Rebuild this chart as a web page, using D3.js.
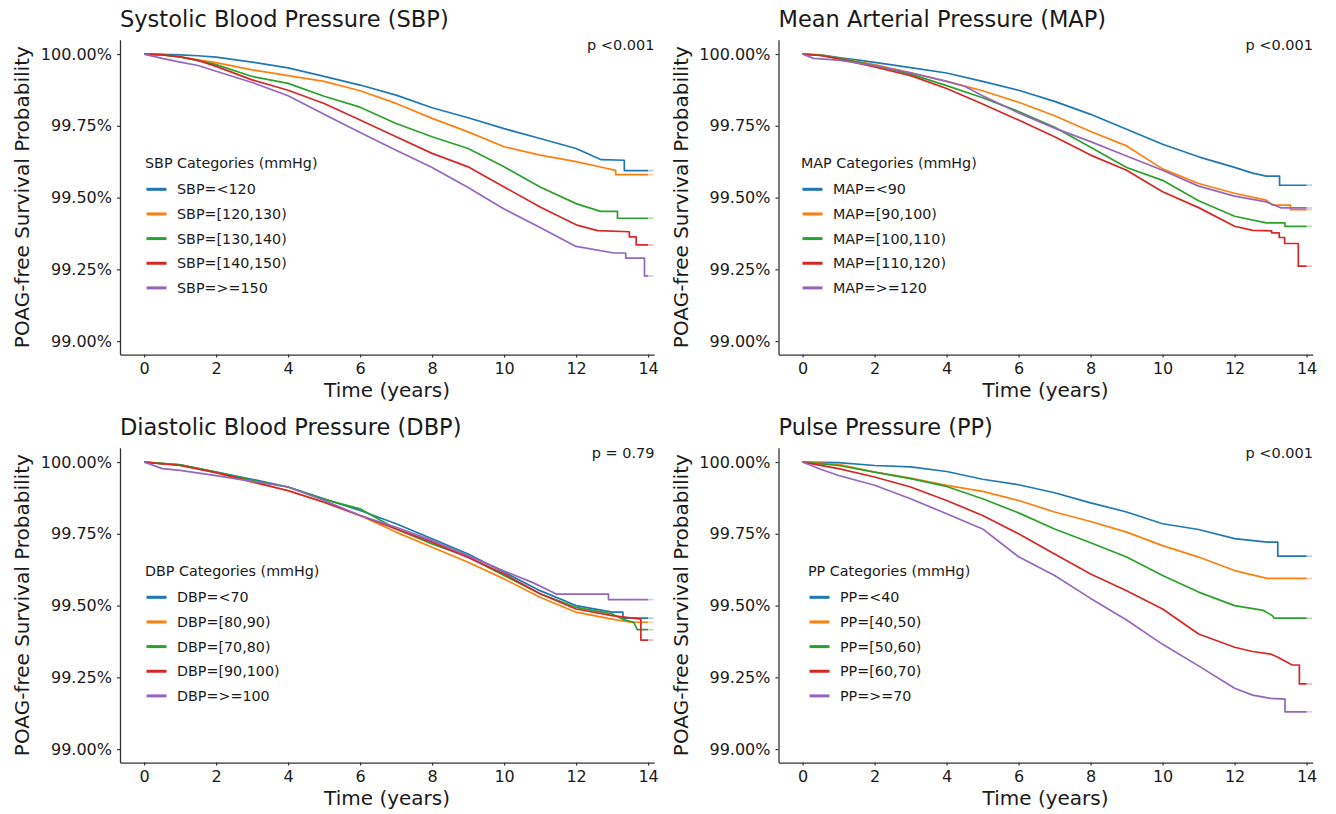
<!DOCTYPE html>
<html>
<head>
<meta charset="utf-8">
<script src="https://cdn.jsdelivr.net/npm/d3@7"></script>
<style>
  html, body { margin: 0; padding: 0; background: #fff; }
  svg { display: block; font-family: "DejaVu Sans", sans-serif; }
</style>
</head>
<body>
<svg id="chart" width="1336" height="814"></svg>
<script>
// ---------------- DATA ----------------
const panelTitles = [
  "Systolic Blood Pressure (SBP)",
  "Mean Arterial Pressure (MAP)",
  "Diastolic Blood Pressure (DBP)",
  "Pulse Pressure (PP)"
];
const legendTitles = [
  "SBP Categories (mmHg)",
  "MAP Categories (mmHg)",
  "DBP Categories (mmHg)",
  "PP Categories (mmHg)"
];
const pValues = ["p <0.001", "p <0.001", "p = 0.79", "p <0.001"];

const sbpCategories = ["SBP=<120", "SBP=[120,130)", "SBP=[130,140)", "SBP=[140,150)", "SBP=>=150"];
const mapCategories = ["MAP=<90", "MAP=[90,100)", "MAP=[100,110)", "MAP=[110,120)", "MAP=>=120"];
const dbpCategories = ["DBP=<70", "DBP=[80,90)", "DBP=[70,80)", "DBP=[90,100)", "DBP=>=100"];
const ppCategories  = ["PP=<40", "PP=[40,50)", "PP=[50,60)", "PP=[60,70)", "PP=>=70"];

const xTicks = [0, 2, 4, 6, 8, 10, 12, 14];
const yTicks = [99.00, 99.25, 99.50, 99.75, 100.00];

// survival (%) read at [time (years), value]
const sbpCurves = [
  [[0,100],[0.5,99.999],[1,99.997],[1.5,99.994],[2,99.989],[3,99.972],[4,99.952],[5,99.922],[6,99.892],[7,99.857],[8,99.813],[9,99.778],[10,99.740],[11,99.706],[12,99.671],[12.7,99.632],[13.34,99.630],[13.34,99.594],[14.15,99.594]],
  [[0,100],[0.5,99.997],[1,99.990],[1.5,99.980],[2,99.970],[3,99.945],[4,99.925],[5,99.905],[6,99.872],[7,99.828],[8,99.776],[9,99.729],[10,99.677],[11,99.648],[12,99.625],[12.77,99.604],[13.1,99.595],[13.1,99.580],[14.15,99.580]],
  [[0,100],[0.5,99.998],[1,99.990],[1.5,99.977],[2,99.963],[3,99.922],[4,99.898],[5,99.853],[6,99.815],[7,99.758],[8,99.712],[9,99.671],[10,99.607],[11,99.537],[12,99.479],[12.68,99.452],[13.15,99.452],[13.15,99.428],[14.15,99.428]],
  [[0,100],[0.5,99.997],[1,99.990],[1.5,99.978],[2,99.957],[3,99.910],[4,99.874],[5,99.828],[6,99.770],[7,99.712],[8,99.654],[9,99.607],[10,99.537],[11,99.467],[12,99.405],[12.6,99.385],[13.48,99.381],[13.48,99.363],[13.67,99.363],[13.67,99.335],[14.15,99.335]],
  [[0,100],[0.5,99.985],[1,99.972],[1.5,99.960],[2,99.940],[3,99.901],[4,99.855],[5,99.790],[6,99.727],[7,99.665],[8,99.605],[9,99.535],[10,99.460],[11,99.396],[12,99.330],[13.05,99.307],[13.38,99.307],[13.38,99.289],[13.9,99.289],[13.9,99.227],[14.15,99.227]]
];
const mapCurves = [
  [[0,100],[0.5,99.997],[1,99.988],[1.5,99.980],[2,99.971],[3,99.953],[4,99.934],[5,99.905],[6,99.874],[7,99.835],[8,99.790],[9,99.738],[10,99.686],[11,99.642],[12,99.605],[12.5,99.585],[12.88,99.575],[13.25,99.575],[13.25,99.543],[14.15,99.543]],
  [[0,100],[0.5,99.996],[1,99.986],[2,99.963],[3,99.935],[4,99.905],[5,99.872],[6,99.832],[7,99.785],[8,99.730],[9,99.680],[10,99.600],[11,99.549],[12,99.515],[12.88,99.491],[13.05,99.474],[13.55,99.474],[13.55,99.458],[14.15,99.458]],
  [[0,100],[0.5,99.995],[1,99.986],[2,99.960],[3,99.930],[4,99.890],[5,99.848],[6,99.800],[7,99.745],[8,99.675],[9,99.605],[10,99.560],[11,99.489],[12,99.435],[12.88,99.412],[13.4,99.412],[13.4,99.400],[14.15,99.400]],
  [[0,100],[0.5,99.995],[1,99.983],[2,99.955],[3,99.925],[4,99.880],[5,99.826],[6,99.770],[7,99.712],[8,99.648],[9,99.595],[10,99.520],[11,99.465],[12,99.400],[12.5,99.386],[13.03,99.384],[13.03,99.377],[13.24,99.377],[13.24,99.361],[13.39,99.361],[13.39,99.340],[13.77,99.340],[13.77,99.261],[14.15,99.261]],
  [[0,100],[0.3,99.985],[1,99.979],[2,99.960],[3,99.935],[4,99.905],[4.5,99.888],[5,99.855],[6,99.795],[7,99.742],[8,99.695],[9,99.645],[10,99.595],[11,99.540],[12,99.505],[12.88,99.485],[13.3,99.464],[14.15,99.464]]
];
const dbpCurves = [
  [[0,100],[1,99.990],[2,99.965],[3,99.940],[4,99.913],[5,99.872],[6,99.831],[7,99.785],[8,99.733],[9,99.680],[10,99.616],[11,99.552],[12,99.500],[13,99.477],[13.3,99.477],[13.3,99.456],[14.15,99.456]],
  [[0,100],[1,99.990],[2,99.963],[3,99.930],[4,99.901],[5,99.860],[6,99.814],[7,99.756],[8,99.703],[9,99.651],[10,99.593],[11,99.529],[12,99.477],[13,99.453],[13.5,99.442],[14.15,99.442]],
  [[0,100],[1,99.990],[2,99.965],[3,99.937],[4,99.913],[5,99.870],[6,99.837],[7,99.767],[8,99.715],[9,99.669],[10,99.605],[11,99.541],[12,99.494],[13,99.471],[13.3,99.452],[13.6,99.442],[13.7,99.416],[14.15,99.416]],
  [[0,100],[1,99.988],[2,99.963],[3,99.932],[4,99.900],[5,99.860],[6,99.814],[7,99.767],[8,99.721],[9,99.668],[10,99.610],[11,99.541],[12,99.488],[13,99.465],[13.8,99.453],[13.8,99.380],[14.15,99.380]],
  [[0,100],[0.5,99.977],[1,99.971],[2,99.953],[3,99.933],[4,99.913],[5,99.866],[6,99.814],[7,99.773],[8,99.727],[9,99.674],[10,99.620],[10.8,99.580],[11.45,99.540],[12.9,99.540],[12.9,99.521],[14.15,99.521]]
];
const ppCurves = [
  [[0,100],[1,99.998],[2,99.988],[3,99.983],[4,99.967],[5,99.940],[6,99.921],[7,99.893],[8,99.858],[9,99.826],[10,99.785],[11,99.765],[12,99.733],[12.9,99.721],[13.2,99.721],[13.2,99.672],[14.15,99.672]],
  [[0,100],[1,99.992],[2,99.965],[3,99.944],[4,99.919],[5,99.898],[6,99.866],[7,99.826],[8,99.793],[9,99.756],[10,99.709],[11,99.669],[12,99.622],[12.9,99.595],[14.15,99.595]],
  [[0,100],[1,99.988],[2,99.965],[3,99.942],[4,99.915],[5,99.872],[6,99.823],[7,99.767],[8,99.719],[9,99.669],[10,99.605],[11,99.547],[12,99.500],[12.8,99.483],[13.05,99.465],[13.1,99.456],[14.15,99.456]],
  [[0,100],[1,99.977],[2,99.948],[3,99.913],[4,99.866],[5,99.814],[6,99.750],[7,99.680],[8,99.610],[9,99.552],[10,99.488],[11,99.401],[12,99.355],[12.5,99.340],[13,99.331],[13.2,99.320],[13.6,99.293],[13.8,99.293],[13.8,99.227],[14.15,99.227]],
  [[0,100],[0.5,99.975],[1,99.953],[2,99.919],[3,99.872],[4,99.820],[5,99.767],[6,99.670],[7,99.605],[8,99.525],[9,99.450],[10,99.365],[11,99.290],[12,99.212],[12.5,99.188],[13,99.177],[13.4,99.174],[13.4,99.130],[14.15,99.130]]
];

const seriesColors = ["#1f77b4", "#ff7f0e", "#2ca02c", "#d62728", "#9467bd"];

// ---------------- LAYOUT ----------------
const panels = [
  { title: panelTitles[0], legend: legendTitles[0], p: pValues[0], cats: sbpCategories, curves: sbpCurves, dx: 0,     dy: 0,   lx: 145 },
  { title: panelTitles[1], legend: legendTitles[1], p: pValues[1], cats: mapCategories, curves: mapCurves, dx: 658.5, dy: 0,   lx: 801 },
  { title: panelTitles[2], legend: legendTitles[2], p: pValues[2], cats: dbpCategories, curves: dbpCurves, dx: 0,     dy: 408, lx: 145 },
  { title: panelTitles[3], legend: legendTitles[3], p: pValues[3], cats: ppCategories,  curves: ppCurves,  dx: 658.5, dy: 408, lx: 808 }
];

const svg = d3.select("#chart");
const AX = "#333333";
const TXT = "#1a1a1a";
const SOLID_END = 14.0;

panels.forEach(pn => {
  const g = svg.append("g").attr("transform", `translate(${pn.dx},${pn.dy})`);
  const x = d3.scaleLinear().domain([-0.67, 14.17]).range([120, 654.2]);
  const y = d3.scaleLinear().domain([98.953, 100.05]).range([354.6, 39.7]);

  // title
  g.append("text").attr("x", 120).attr("y", 27)
    .attr("font-size", 22.5).attr("fill", TXT).text(pn.title);

  // y axis label
  g.append("text")
    .attr("transform", `translate(29,${(39.7 + 354.6) / 2}) rotate(-90)`)
    .attr("text-anchor", "middle").attr("font-size", 20).attr("fill", TXT)
    .text("POAG-free Survival Probability");

  // x axis label
  g.append("text").attr("x", (120 + 654.2) / 2).attr("y", 397)
    .attr("text-anchor", "middle").attr("font-size", 20).attr("fill", TXT)
    .text("Time (years)");

  // axes
  const xAxis = d3.axisBottom(x).tickValues(xTicks).tickSize(3).tickSizeOuter(0).tickPadding(5)
    .tickFormat(d3.format("d"));
  const gx = g.append("g").attr("transform", `translate(0,${y(98.953)})`).call(xAxis);
  const yAxis = d3.axisLeft(y).tickValues(yTicks).tickSize(3).tickSizeOuter(0).tickPadding(5)
    .tickFormat(d => d3.format(".2f")(d) + "%");
  const gy = g.append("g").attr("transform", `translate(${x(-0.67)},0)`).call(yAxis);
  [gx, gy].forEach(a => {
    a.select(".domain").attr("stroke", AX).attr("stroke-width", 1.3);
    a.selectAll(".tick line").attr("stroke", AX).attr("stroke-width", 1.2);
    a.selectAll(".tick text").attr("fill", TXT).attr("font-size", 16)
      .attr("font-family", "DejaVu Sans, sans-serif");
  });

  // curves
  const line = d3.line().x(d => x(d[0])).y(d => y(d[1])).curve(d3.curveLinear);
  [0, 1, 2, 3, 4].forEach(i => {
    const pts = pn.curves[i];
    const last = pts[pts.length - 1];
    const solid = pts.slice(0, -1).concat([[SOLID_END, last[1]]]);
    g.append("path").datum(solid).attr("d", line)
      .attr("fill", "none").attr("stroke", seriesColors[i]).attr("stroke-width", 1.7)
      .attr("stroke-linejoin", "round");
    g.append("path").datum([[SOLID_END, last[1]], last]).attr("d", line)
      .attr("fill", "none").attr("stroke", seriesColors[i]).attr("stroke-width", 1.7)
      .attr("stroke-opacity", 0.35);
  });

  // p value
  g.append("text").attr("x", 654.5).attr("y", 50).attr("text-anchor", "end")
    .attr("font-size", 14.5).attr("fill", TXT).text(pn.p);

  // legend
  const lg = g.append("g").attr("transform", `translate(${pn.lx - pn.dx},0)`);
  lg.append("text").attr("x", 0).attr("y", 168).attr("font-size", 14.3).attr("fill", TXT).text(pn.legend);
  pn.cats.forEach((c, i) => {
    const cy = 189.3 + i * 24.65;
    lg.append("line").attr("x1", 1.5).attr("x2", 21.5).attr("y1", cy).attr("y2", cy)
      .attr("stroke", seriesColors[i]).attr("stroke-width", 3);
    lg.append("text").attr("x", 32).attr("y", cy).attr("dy", "0.36em")
      .attr("font-size", 14.3).attr("fill", TXT).text(c);
  });
});
</script>
</body>
</html>
